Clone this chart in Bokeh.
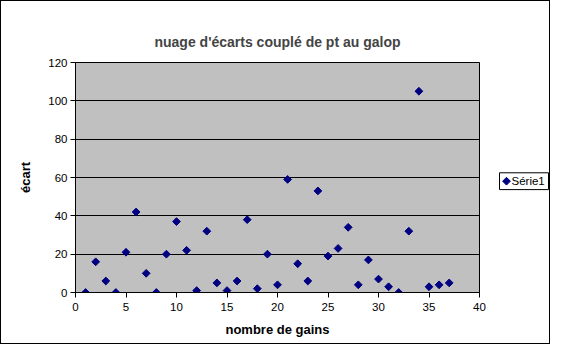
import math
from bokeh.plotting import figure
from bokeh.layouts import row
from bokeh.models import Range1d, FixedTicker
from bokeh.core.properties import value
from bokeh.embed import file_html
from bokeh.resources import INLINE

gains = list(range(1, 38))
ecarts = [0, 16, 6, 0, 21, 42, 10, 0, 20, 37, 22, 1, 32, 5, 1, 6, 38, 2, 20, 4,
          59, 15, 6, 53, 19, 23, 34, 4, 17, 7, 3, 0, 32, 105, 3, 4, 5]
x_ticks = [0, 5, 10, 15, 20, 25, 30, 35, 40]
y_ticks = [0, 20, 40, 60, 80, 100, 120]
series_name = "Série1"

FONT = "Liberation Sans"
NAVY = "#000080"

p = figure(width=490, height=342, output_backend="svg", toolbar_location=None,
           x_range=Range1d(0, 40), y_range=Range1d(0, 120),
           min_border_left=74, min_border_right=12, min_border_top=61, min_border_bottom=51)

p.title.text = "nuage d'écarts couplé de pt au galop"
p.title.text_font = FONT
p.title.text_font_size = "14px"
p.title.text_font_style = "bold"
p.title.align = "center"
p.title.offset = 0
p.title.standoff = 26

p.background_fill_color = "#C0C0C0"
p.border_fill_color = "white"
p.outline_line_color = "black"
p.outline_line_width = 1

p.scatter(gains, ecarts, marker="square", angle=math.pi / 4, size=5.5,
          fill_color=NAVY, line_color=NAVY)

for ax in (p.xaxis[0], p.yaxis[0]):
    ax.axis_line_color = "black"
    ax.major_tick_line_color = "black"
    ax.major_tick_out = 5
    ax.major_tick_in = 0
    ax.minor_tick_line_color = None
    ax.major_label_text_font = FONT
    ax.major_label_text_font_size = "11.5px"
    ax.major_label_text_color = "black"
    ax.axis_label_text_font = FONT
    ax.axis_label_text_font_size = "13px"
    ax.axis_label_text_font_style = "bold"
    ax.axis_label_text_color = "black"

p.xaxis.ticker = FixedTicker(ticks=x_ticks)
p.yaxis.ticker = FixedTicker(ticks=y_ticks)
p.xaxis.axis_label = "nombre de gains"
p.yaxis.axis_label = "écart"
p.xaxis.major_label_standoff = 5
p.yaxis.major_label_standoff = 3
p.xaxis.axis_label_standoff = 8
p.yaxis.axis_label_standoff = 12

p.xgrid.grid_line_color = None
p.ygrid.grid_line_color = "black"
p.ygrid.grid_line_width = 1

# legend panel
lf = figure(width=58, height=342, output_backend="svg", toolbar_location=None,
            x_range=Range1d(0, 58), y_range=Range1d(342, 0),
            x_axis_type=None, y_axis_type=None, min_border=0)
lf.outline_line_color = None
lf.grid.grid_line_color = None
lf.background_fill_color = "white"
lf.border_fill_color = "white"
lf.quad(left=[8], right=[57], top=[164], bottom=[189],
        fill_color="white", line_color="black", line_width=1)
lf.scatter([15], [176.5], marker="square", angle=math.pi / 4, size=5.5,
           fill_color=NAVY, line_color=NAVY)
lf.text([20], [176.5], text=[series_name], text_baseline="middle",
        text_font=value(FONT), text_font_size="11.5px", text_color="black")

layout = row(p, lf, spacing=0, styles={"border": "1px solid black"})

open("out.html", "w").write(file_html(layout, INLINE))
